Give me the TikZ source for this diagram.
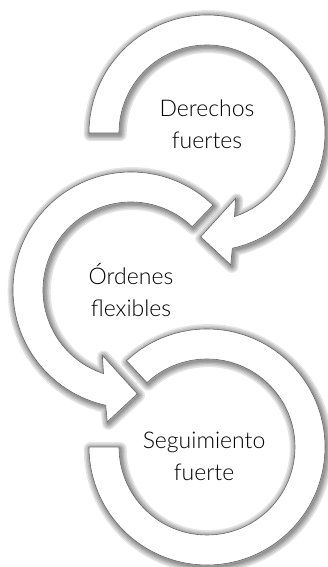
\documentclass[tikz,border=0pt]{standalone}
\usepackage{fontspec}
\setmainfont{Lato Light}
\usepackage{tikz}
\newcommand{\cwpath}[1]{(#1:118) arc[start angle = #1, end angle = -77.6, radius = 118] -- (-79.8:134) -- (-93.5:104) -- (-66.3:71.3) -- (-71.8:88) arc[start angle = -71.8, end angle = #1, radius = 88] -- cycle}
\newcommand{\ccwpath}[1]{(#1:118) arc[start angle = #1, end angle = 257.6, radius = 118] -- (259.8:134) -- (273.5:104) -- (246.3:71.3) -- (251.8:88) arc[start angle = 251.8, end angle = #1, radius = 88] -- cycle}
\newcommand{\ringpath}[2]{(#1:118) arc[start angle = #1, end angle = #2, radius = 118] -- (#2:88) arc[start angle = #2, end angle = #1, radius = 88] -- cycle}
\tikzset{
shade layer/.style = { draw = black, draw opacity = 0.1, line width = #1, line join = round },
ring/.style = { draw = black!60, line width = 0.6pt, fill = white },
label/.style = { align = center, font = \fontsize{23}{32}\selectfont, text = black },
}
\tikzset{
pics/cw arrow/.style = {
        code = {
        \foreach \w in {13, 10, 7, 4.5, 2} {\path[shade layer = \w pt, shift = {(1.2, -1.6)}] \cwpath{#1};}
        \path[ring] \cwpath{#1};
        }
    },
pics/ccw arrow/.style = {
        code = {
        \foreach \w in {13, 10, 7, 4.5, 2} {\path[shade layer = \w pt, shift = {(1.2, -1.6)}] \ccwpath{#1};}
        \path[ring] \ccwpath{#1};
        }
    },
pics/open ring/.style args = {#1, #2}{
        code = {
        \foreach \w in {13, 10, 7, 4.5, 2} {\path[shade layer = \w pt, shift = {(1.2, -1.6)}] \ringpath{#1}{#2};}
        \path[ring] \ringpath{#1}{#2};
        }
    }
}
\begin{document}
\begin{tikzpicture}[x = 1pt, y = 1pt]
    \useasboundingbox (0, 0) rectangle (327, 567);
    \coordinate (c1) at (207, 434);
    \coordinate (c2) at (131, 277);
    \coordinate (c3) at (207, 120);
    \draw (c3) pic{open ring = {133, -180}};
    \draw (c2) pic{ccw arrow = 46};
    \draw (c1) pic{cw arrow = 180};
    \node[label] (derechos) at (207, 442.5) {Derechos\\fuertes};
    \node[label] (ordenes) at (131, 277) {Órdenes\\flexibles};
    \node[label] (seguimiento) at (204, 111) {Seguimiento\\fuerte};
\end{tikzpicture}
\end{document}
